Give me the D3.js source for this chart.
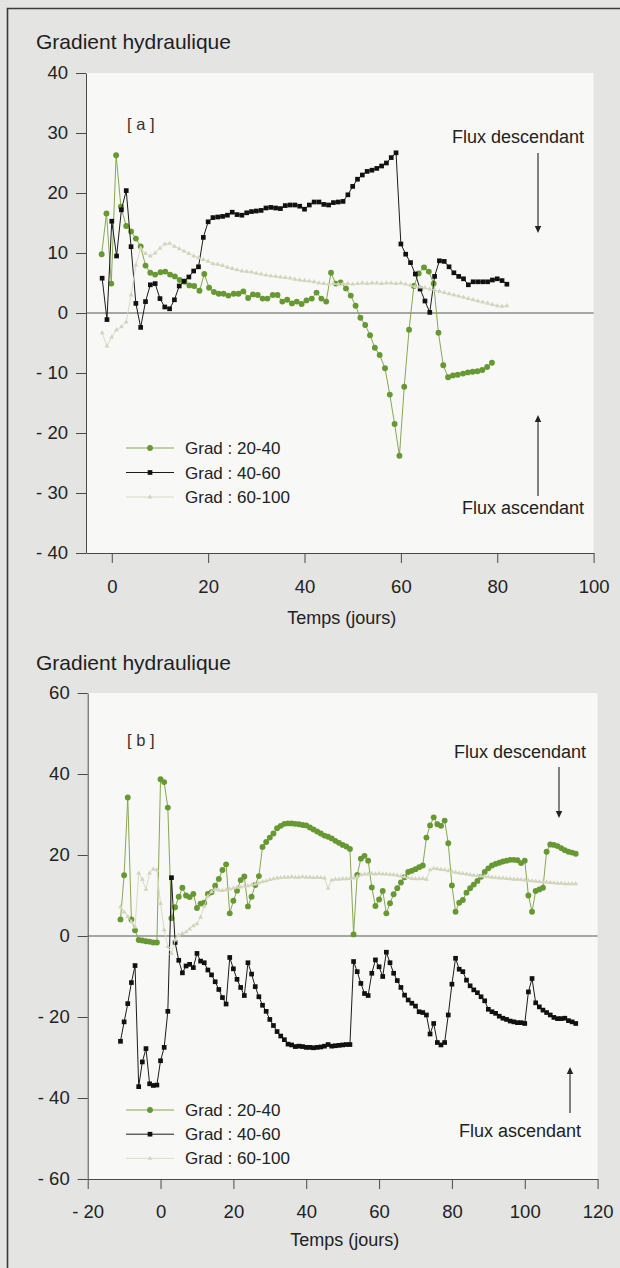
<!DOCTYPE html>
<html><head><meta charset="utf-8">
<script src="https://cdn.jsdelivr.net/npm/d3@7"></script>
<style>
html,body{margin:0;padding:0;background:#e4e4e2;}
svg{display:block;font-family:"Liberation Sans",Arial,Helvetica,sans-serif;}
</style></head><body>
<svg id="c" width="620" height="1268"></svg>
<script>
// ---------------- DATA ----------------
const seriesNames = ["Grad : 20-40", "Grad : 40-60", "Grad : 60-100"];
const xTicksA = [0, 20, 40, 60, 80, 100];
const yTicksA = [-40, -30, -20, -10, 0, 10, 20, 30, 40];
const xTicksB = [-20, 0, 20, 40, 60, 80, 100, 120];
const yTicksB = [-60, -40, -20, 0, 20, 40, 60];

// Panel [a]
const aGreenDays = [-2.1,-1.1,-0.1,0.9,1.9,3.0,4.0,5.0,6.0,7.0,8.0,9.0,10.1,11.1,12.1,13.1,14.1,15.1,16.1,17.1,18.2,19.2,20.2,21.2,22.2,23.2,24.2,25.3,26.3,27.3,28.3,29.3,30.3,31.3,32.3,33.4,34.4,35.4,36.4,37.4,38.4,39.4,40.4,41.5,42.5,43.5,44.5,45.5,46.5,47.5,48.6,49.6,50.6,51.6,52.6,53.6,54.6,55.6,56.7,57.7,58.7,59.7,60.7,61.7,62.7,63.7,64.8,65.8,66.8,67.8,68.8,69.8,70.8,71.8,72.9,73.9,74.9,75.9,76.9,77.9,78.9];
const aGreenGrad = [9.8,16.6,4.9,26.3,17.7,14.5,13.6,12.4,11.1,7.9,6.7,6.4,6.8,6.9,6.4,6.1,5.5,5.2,4.6,4.5,3.7,6.5,4.2,3.5,3.2,3.2,2.9,3.2,3.2,3.6,2.5,3.1,3.0,2.4,2.4,3.0,3.0,1.9,2.2,1.6,1.9,1.5,2.1,2.4,3.4,2.4,1.9,6.7,4.9,5.1,4.1,2.9,1.2,-0.8,-2.0,-3.7,-5.8,-7.0,-9.2,-13.6,-18.5,-23.8,-12.3,-2.8,4.5,6.6,7.6,6.9,4.9,-3.3,-8.7,-10.7,-10.4,-10.3,-10.1,-9.9,-9.8,-9.7,-9.5,-9.0,-8.3];
const aBlackDays = [-2,-1,0,1,2,3,4,5,6,7,8,9,10,11,12,13,14,15,16,17,18,19,20,21,22,23,24,25,26,27,28,29,30,31,32,33,34,35,36,37,38,39,40,41,42,43,44,45,46,47,48,49,50,51,52,53,54,55,56,57,58,59,60,61,62,63,64,65,66,67,68,69,70,71,72,73,74,75,76,77,78,79,80,81,82];
const aBlackGrad = [5.8,-1.1,15.3,9.5,17.2,20.4,11.05,1.6,-2.4,1.9,4.7,4.9,2.4,1.0,0.7,2.2,4.5,5.3,6.0,7.0,7.7,12.6,15.2,15.9,16.0,16.1,16.3,16.8,16.4,16.3,16.7,16.9,17.0,17.1,17.5,17.6,17.5,17.4,17.9,18.0,18.0,17.8,17.3,18.0,18.5,18.5,18.1,18.0,18.4,18.5,18.6,19.7,21.1,22.3,23.0,23.6,23.8,24.1,24.5,25.0,25.9,26.7,11.5,9.8,8.4,6.5,4.0,2.0,0.1,6.1,8.7,8.6,7.7,6.7,6.1,5.7,4.7,5.2,5.2,5.2,5.2,5.5,5.7,5.4,4.8];
const aLightDays = [-2,-1,0,1,2,3,4,5,6,7,8,9,10,11,12,13,14,15,16,17,18,19,20,21,22,23,24,25,26,27,28,29,30,31,32,33,34,35,36,37,38,39,40,41,42,43,44,45,46,47,48,49,50,51,52,53,54,55,56,57,58,59,60,61,62,63,64,65,66,67,68,69,70,71,72,73,74,75,76,77,78,79,80,81,82];
const aLightGrad = [-3.3,-5.5,-4.0,-2.8,-2.3,-1.5,3.0,8.0,10.8,9.9,9.5,10.0,10.8,11.5,11.6,11.1,10.7,10.3,9.9,9.5,9.2,8.9,8.6,8.2,8.1,7.9,7.6,7.4,7.2,7.0,6.9,6.8,6.6,6.5,6.3,6.2,6.1,6.0,5.9,5.8,5.6,5.5,5.4,5.3,5.2,5.0,4.9,4.8,4.9,4.8,4.9,4.9,4.8,4.9,5.0,4.9,5.0,5.0,4.9,5.0,5.0,4.9,5.0,4.8,4.6,4.4,4.3,4.2,4.0,3.8,3.6,3.4,3.2,3.0,2.8,2.6,2.4,2.2,2.0,1.8,1.6,1.4,1.2,1.1,1.2];

// Panel [b]
const bDays = [-11,-10,-9,-8,-7,-6,-5,-4,-3,-2,-1,0,1,2,3,4,5,6,7,8,9,10,11,12,13,14,15,16,17,18,19,20,21,22,23,24,25,26,27,28,29,30,31,32,33,34,35,36,37,38,39,40,41,42,43,44,45,46,47,48,49,50,51,52,53,54,55,56,57,58,59,60,61,62,63,64,65,66,67,68,69,70,71,72,73,74,75,76,77,78,79,80,81,82,83,84,85,86,87,88,89,90,91,92,93,94,95,96,97,98,99,100,101,102,103,104,105,106,107,108,109,110,111,112,113,114];
const bGreenGrad = [4.1,15.0,34.2,4.1,1.4,-1.0,-1.1,-1.3,-1.4,-1.6,-1.6,38.7,38.0,31.7,4.4,7.1,9.7,11.9,10.0,9.6,10.4,6.9,8.0,8.2,10.4,10.8,12.4,14.1,16.3,17.7,5.6,8.7,11.2,13.8,14.7,7.3,9.7,12.6,14.8,22.0,23.2,24.3,25.3,26.6,27.2,27.7,27.8,27.8,27.7,27.6,27.4,27.3,26.8,26.3,25.8,25.3,24.8,24.5,24.1,23.5,23.0,22.5,22.1,21.5,0.4,15.1,19.1,19.8,18.6,12.0,7.4,9.0,11.1,5.6,8.1,10.3,11.8,13.2,14.5,15.8,16.1,16.5,17.0,17.4,24.3,27.3,29.3,27.6,27.2,28.5,22.9,12.5,6.0,8.2,8.9,10.7,11.8,12.7,13.6,14.6,15.8,16.7,17.4,17.8,18.1,18.4,18.6,18.8,18.8,18.7,18.0,18.6,10.0,6.0,11.1,11.5,11.9,20.8,22.6,22.5,22.2,21.7,21.2,20.8,20.6,20.3];
const bBlackGrad = [-26.0,-21.2,-16.7,-11.5,-7.3,-37.2,-31.1,-27.8,-36.5,-36.9,-36.8,-30.8,-27.5,-18.6,14.4,-1.6,-6.0,-9.1,-7.4,-7.0,-7.8,-4.3,-6.2,-6.6,-8.4,-9.6,-11.3,-13.2,-15.2,-16.8,-5.3,-8.1,-10.7,-12.7,-14.7,-6.6,-9.4,-12.5,-15.0,-17.1,-18.6,-20.6,-22.1,-23.6,-24.7,-25.6,-26.7,-26.9,-27.3,-27.2,-27.3,-27.5,-27.5,-27.6,-27.5,-27.4,-27.2,-26.8,-27.2,-27.1,-27.0,-26.9,-26.8,-26.8,-6.3,-8.8,-11.7,-14.2,-14.7,-9.2,-5.9,-7.6,-10.0,-4.0,-6.6,-9.2,-11.0,-12.7,-14.6,-15.8,-16.6,-17.3,-18.7,-18.9,-19.5,-24.2,-21.6,-26.3,-26.9,-26.3,-19.5,-11.9,-5.5,-8.2,-8.8,-10.9,-12.3,-13.3,-14.0,-15.0,-16.0,-18.1,-18.7,-19.1,-19.8,-20.3,-20.6,-21.0,-21.2,-21.4,-21.4,-21.6,-13.8,-10.5,-16.5,-17.5,-18.3,-18.9,-19.5,-20.1,-20.4,-20.4,-20.3,-20.9,-21.2,-21.6];
const bLightGrad = [7.2,5.9,4.8,3.5,2.2,15.5,14.0,11.5,15.5,16.5,16.3,8.0,1.5,-2.6,-4.3,-1.0,0.2,0.6,1.0,1.7,2.5,3.0,4.6,7.3,9.8,10.9,11.5,11.3,11.2,11.4,11.6,11.8,12.0,12.1,12.3,12.4,12.6,12.8,13.1,13.4,13.6,13.9,14.1,14.3,14.4,14.5,14.5,14.6,14.5,14.5,14.6,14.5,14.5,14.4,14.5,14.4,14.3,11.8,13.8,14.0,14.0,14.1,14.1,14.2,14.3,14.6,15.1,15.3,15.3,15.4,15.3,15.4,15.3,15.3,15.2,15.1,15.0,14.8,14.6,14.4,14.2,14.1,14.1,14.2,14.0,16.3,16.7,16.6,16.4,16.3,16.1,15.9,15.7,15.5,15.4,15.3,15.1,15.0,14.9,14.8,14.7,14.6,14.5,14.4,14.3,14.3,14.2,14.1,14.0,14.0,13.9,13.8,13.7,13.6,13.5,13.4,13.3,13.3,13.2,13.1,13.0,13.0,12.9,12.9,12.9,12.9];

// ---------------- STYLE ----------------
const COL = {
  green: {line: "#86a852", fill: "#679833", shape: d3.symbolCircle, size: 27},
  black: {line: "#1c1c1c", fill: "#111", shape: d3.symbolSquare, size: 22},
  light: {line: "#d9dbc6", fill: "#d2d5bc", shape: d3.symbolTriangle, size: 10}
};
const fmt = v => v < 0 ? "- " + Math.abs(v) : String(v);

const svg = d3.select("#c");
svg.append("rect").attr("x", 0).attr("y", 0).attr("width", 620).attr("height", 1268).attr("fill", "#e4e4e2");
svg.append("path").attr("d", "M7.5,1268 V8.5 H620").attr("fill", "none").attr("stroke", "#3a3a3a").attr("stroke-width", 1.6);

function panel(cfg) {
  const x = d3.scaleLinear().domain(cfg.xDomain).range([cfg.left, cfg.right]);
  const y = d3.scaleLinear().domain(cfg.yDomain).range([cfg.bottom, cfg.top]);
  const g = svg.append("g");

  g.append("rect").attr("x", cfg.left).attr("y", cfg.top)
    .attr("width", cfg.right - cfg.left).attr("height", cfg.bottom - cfg.top)
    .attr("fill", "#f8f8f6");

  g.append("text").attr("x", 36).attr("y", cfg.titleY).attr("font-size", 21).attr("fill", "#1e1e1e")
    .text("Gradient hydraulique");

  // axes
  const ax = g.append("g").attr("transform", `translate(0,${cfg.bottom})`)
    .call(d3.axisBottom(x).tickValues(cfg.xTicks).tickSize(10).tickSizeOuter(0).tickPadding(cfg.xPad).tickFormat(fmt));
  const ay = g.append("g").attr("transform", `translate(${cfg.left},0)`)
    .call(d3.axisLeft(y).tickValues(cfg.yTicks).tickSize(10).tickSizeOuter(0).tickPadding(8).tickFormat(fmt));
  [ax, ay].forEach(a => {
    a.attr("font-family", null).attr("font-size", 18.5);
    a.selectAll("path,line").attr("stroke", "#4a4a4a").attr("stroke-width", 1);
    a.selectAll("text").attr("fill", "#222");
  });

  // zero line
  g.append("line").attr("x1", cfg.left).attr("x2", cfg.right).attr("y1", y(0)).attr("y2", y(0))
    .attr("stroke", "#555").attr("stroke-width", 1.1);

  g.append("text").attr("x", (cfg.left + cfg.right) / 2 + 2).attr("y", cfg.xLabelY)
    .attr("text-anchor", "middle").attr("font-size", 18).attr("fill", "#222").text("Temps (jours)");

  g.append("text").attr("x", 127).attr("y", cfg.tagY).attr("font-size", 16.5).attr("fill", "#333")
    .attr("xml:space", "preserve").text(cfg.tag);

  // series
  const line = d3.line().x(d => x(d[0])).y(d => y(d[1]));
  cfg.series.forEach(s => {
    const st = COL[s.key];
    const pts = s.xs.map((v, i) => [v, s.ys[i]]);
    g.append("path").datum(pts).attr("d", line).attr("fill", "none")
      .attr("stroke", st.line).attr("stroke-width", 1);
    g.append("g").selectAll("path").data(pts).join("path")
      .attr("transform", d => `translate(${x(d[0])},${y(d[1])})`)
      .attr("d", d3.symbol(st.shape, st.size)).attr("fill", st.fill);
  });

  // legend
  cfg.legend.forEach((k, i) => {
    const st = COL[k];
    const ly = cfg.legendY + i * cfg.legendStep;
    g.append("line").attr("x1", 126).attr("x2", 174).attr("y1", ly).attr("y2", ly)
      .attr("stroke", st.line).attr("stroke-width", 1);
    g.append("path").attr("transform", `translate(150,${ly})`).attr("d", d3.symbol(st.shape, st.size)).attr("fill", st.fill);
    g.append("text").attr("x", 185).attr("y", ly + 6).attr("font-size", 17).attr("fill", "#222").text(seriesNames[i]);
  });

  // flux annotations
  const ann = cfg.ann;
  g.append("text").attr("x", ann.descX).attr("y", ann.descY).attr("text-anchor", "end")
    .attr("font-size", 18).attr("fill", "#222").text("Flux descendant");
  g.append("text").attr("x", ann.ascX).attr("y", ann.ascY).attr("text-anchor", "end")
    .attr("font-size", 18).attr("fill", "#222").text("Flux ascendant");
  // down arrow
  g.append("line").attr("x1", ann.dAx).attr("x2", ann.dAx).attr("y1", ann.dA0).attr("y2", ann.dA1 - 5)
    .attr("stroke", "#333").attr("stroke-width", 1.2);
  g.append("path").attr("d", `M${ann.dAx - 3.2},${ann.dA1 - 7} L${ann.dAx + 3.2},${ann.dA1 - 7} L${ann.dAx},${ann.dA1} Z`).attr("fill", "#222");
  // up arrow
  g.append("line").attr("x1", ann.uAx).attr("x2", ann.uAx).attr("y1", ann.uA0 + 5).attr("y2", ann.uA1)
    .attr("stroke", "#333").attr("stroke-width", 1.2);
  g.append("path").attr("d", `M${ann.uAx - 3.2},${ann.uA0 + 7} L${ann.uAx + 3.2},${ann.uA0 + 7} L${ann.uAx},${ann.uA0} Z`).attr("fill", "#222");
}

panel({
  left: 86, right: 593.6, top: 73, bottom: 553,
  xDomain: [-5.35, 100], yDomain: [-40, 40],
  xTicks: xTicksA, yTicks: yTicksA, xPad: 17,
  titleY: 49, xLabelY: 624, tag: "[ a ]", tagY: 130,
  series: [
    {key: "green", xs: aGreenDays, ys: aGreenGrad},
    {key: "black", xs: aBlackDays, ys: aBlackGrad},
    {key: "light", xs: aLightDays, ys: aLightGrad}
  ],
  legend: ["green", "black", "light"], legendY: 448, legendStep: 24.5,
  ann: {descX: 584, descY: 143, ascX: 584, ascY: 514, dAx: 538, dA0: 153, dA1: 233, uAx: 538, uA0: 415, uA1: 496}
});

panel({
  left: 87.7, right: 597.6, top: 693, bottom: 1179,
  xDomain: [-20, 120], yDomain: [-60, 60],
  xTicks: xTicksB, yTicks: yTicksB, xPad: 16,
  titleY: 670, xLabelY: 1246, tag: "[ b ]", tagY: 746,
  series: [
    {key: "green", xs: bDays, ys: bGreenGrad},
    {key: "black", xs: bDays, ys: bBlackGrad},
    {key: "light", xs: bDays, ys: bLightGrad}
  ],
  legend: ["green", "black", "light"], legendY: 1110, legendStep: 24.2,
  ann: {descX: 586, descY: 758, ascX: 581, ascY: 1137, dAx: 559, dA0: 767, dA1: 818, uAx: 570, uA0: 1067, uA1: 1113}
});
</script>
</body></html>
